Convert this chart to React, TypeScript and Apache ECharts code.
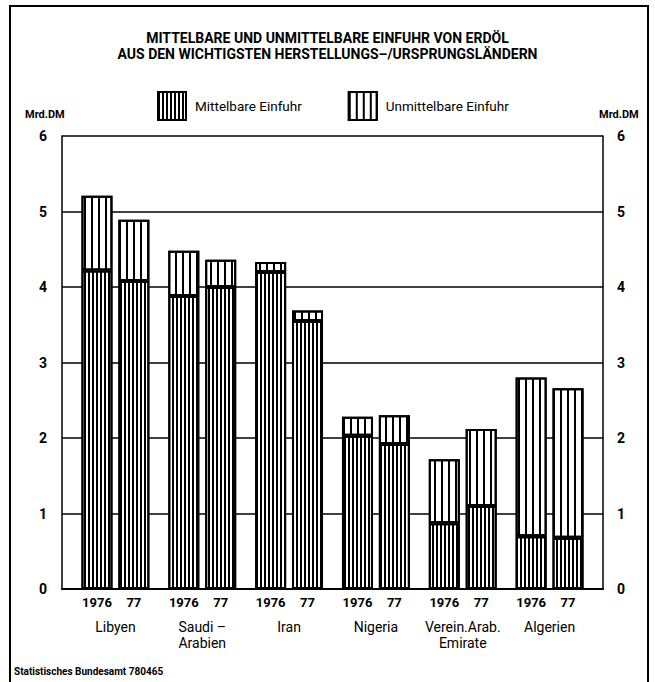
import React, { useEffect, useRef } from "react";
import * as echarts from "echarts";

const categories = ["Libyen", "Saudi –\nArabien", "Iran", "Nigeria", "Verein.Arab.\nEmirate", "Algerien"];
const years = ["1976", "77"];
const mittelbare1976 = [4.22, 3.88, 4.2, 2.03, 0.87, 0.7];
const unmittelbare1976 = [0.99, 0.6, 0.13, 0.25, 0.85, 2.1];
const mittelbare1977 = [4.08, 4.0, 3.55, 1.92, 1.1, 0.68];
const unmittelbare1977 = [0.81, 0.36, 0.14, 0.38, 1.02, 1.98];
const yMin = 0;
const yMax = 6;
const yInterval = 1;

const FONT = "Roboto, 'Liberation Sans', sans-serif";

const denseDecal = {
  symbol: "rect",
  symbolSize: 1,
  symbolKeepAspect: false,
  color: "#000",
  dashArrayX: [2, 1.4],
  dashArrayY: [4, 0],
  rotation: 0,
};
const sparseDecal = {
  symbol: "rect",
  symbolSize: 1,
  symbolKeepAspect: false,
  color: "#000",
  dashArrayX: [1.5, 4.6],
  dashArrayY: [4, 0],
  rotation: 0,
};

export default function App() {
  const ref = useRef<HTMLDivElement>(null);
  useEffect(() => {
    document.body.style.margin = "0";
    const chart = echarts.init(ref.current!, null, { renderer: "svg" });
    const barCommon = {
      type: "bar",
      xAxisIndex: 1,
      yAxisIndex: 2,
      barWidth: 31,
      barGap: "19%",
    };
    const mStyle = { color: "#fff", borderColor: "#000", borderWidth: 2, decal: denseDecal };
    const uStyle = { color: "#fff", borderColor: "#000", borderWidth: 2, decal: sparseDecal };
    const yearLabel = (txt: string) => ({
      show: true,
      position: "bottom",
      distance: 7,
      formatter: txt,
      color: "#000",
      fontSize: 13,
      fontWeight: "bold",
      fontFamily: FONT,
    });
    chart.setOption({
      animation: false,
      aria: { enabled: true, decal: { show: true } },
      textStyle: { fontFamily: FONT, color: "#000" },
      title: {
        text: "MITTELBARE UND UNMITTELBARE EINFUHR VON ERDÖL\nAUS DEN WICHTIGSTEN HERSTELLUNGS–/URSPRUNGSLÄNDERN",
        left: "center",
        top: 25,
        textStyle: { fontSize: 14, fontWeight: "bold", lineHeight: 16, color: "#000", fontFamily: FONT },
      },
      legend: {
        data: ["Mittelbare Einfuhr", "Unmittelbare Einfuhr"],
        left: 152,
        top: 86,
        itemWidth: 28,
        itemHeight: 28,
        itemGap: 46,
        icon: "rect",
        textStyle: { fontSize: 13.5, color: "#000", fontFamily: FONT, padding: [0, 0, 0, 4] },
        selectedMode: false,
      },
      grid: [
        { left: 62, right: 52, top: 136, bottom: 93 },
        { left: 72, right: 62, top: 136, bottom: 93 },
      ],
      xAxis: [
        {
          type: "category",
          gridIndex: 0,
          data: [""],
          axisLine: { show: true, lineStyle: { color: "#000", width: 2 } },
          axisTick: { show: false },
          axisLabel: { show: false },
        },
        {
          type: "category",
          gridIndex: 1,
          data: categories,
          axisLine: { show: false },
          axisTick: { show: false },
          axisLabel: {
            interval: 0,
            margin: 30,
            fontSize: 14,
            lineHeight: 16,
            color: "#000",
            fontFamily: FONT,
          },
        },
      ],
      yAxis: [
        {
          type: "value",
          gridIndex: 0,
          position: "left",
          min: yMin,
          max: yMax,
          interval: yInterval,
          axisLine: { show: true, lineStyle: { color: "#000", width: 1.5 } },
          axisTick: { show: false },
          axisLabel: { margin: 15, fontSize: 14, fontWeight: "bold", color: "#000", fontFamily: FONT },
          splitLine: { show: true, lineStyle: { color: "#000", width: 1.5 } },
        },
        {
          type: "value",
          gridIndex: 0,
          position: "right",
          min: yMin,
          max: yMax,
          interval: yInterval,
          axisLine: { show: true, lineStyle: { color: "#000", width: 1.5 } },
          axisTick: { show: false },
          axisLabel: { margin: 14, fontSize: 14, fontWeight: "bold", color: "#000", fontFamily: FONT },
          splitLine: { show: false },
        },
        {
          type: "value",
          gridIndex: 1,
          min: yMin,
          max: yMax,
          interval: yInterval,
          show: false,
        },
      ],
      graphic: [
        {
          type: "polyline",
          shape: { points: [[10, 684], [10, 6], [648, 6], [648, 684]] },
          style: { stroke: "#000", lineWidth: 2, fill: null },
          silent: true,
        },
        {
          type: "text",
          left: 25,
          top: 109,
          style: { text: "Mrd.DM", fontSize: 11, fontWeight: "bold", fill: "#000", fontFamily: FONT },
        },
        {
          type: "text",
          left: 599,
          top: 109,
          style: { text: "Mrd.DM", fontSize: 11, fontWeight: "bold", fill: "#000", fontFamily: FONT },
        },
        {
          type: "text",
          left: 14,
          top: 666,
          style: {
            text: "Statistisches Bundesamt 780465",
            fontSize: 10,
            fontWeight: "bold",
            fill: "#000",
            fontFamily: FONT,
          },
        },
      ],
      series: [
        {
          ...barCommon,
          name: "Mittelbare Einfuhr",
          stack: "y1976",
          data: mittelbare1976,
          itemStyle: mStyle,
          label: yearLabel(years[0]),
        },
        {
          ...barCommon,
          name: "Unmittelbare Einfuhr",
          stack: "y1976",
          data: unmittelbare1976,
          itemStyle: uStyle,
        },
        {
          ...barCommon,
          name: "Mittelbare Einfuhr",
          stack: "y1977",
          data: mittelbare1977,
          itemStyle: mStyle,
          label: yearLabel(years[1]),
        },
        {
          ...barCommon,
          name: "Unmittelbare Einfuhr",
          stack: "y1977",
          data: unmittelbare1977,
          itemStyle: uStyle,
        },
      ],
    });
    return () => chart.dispose();
  }, []);
  return <div ref={ref} style={{ width: 655, height: 682 }} />;
}
